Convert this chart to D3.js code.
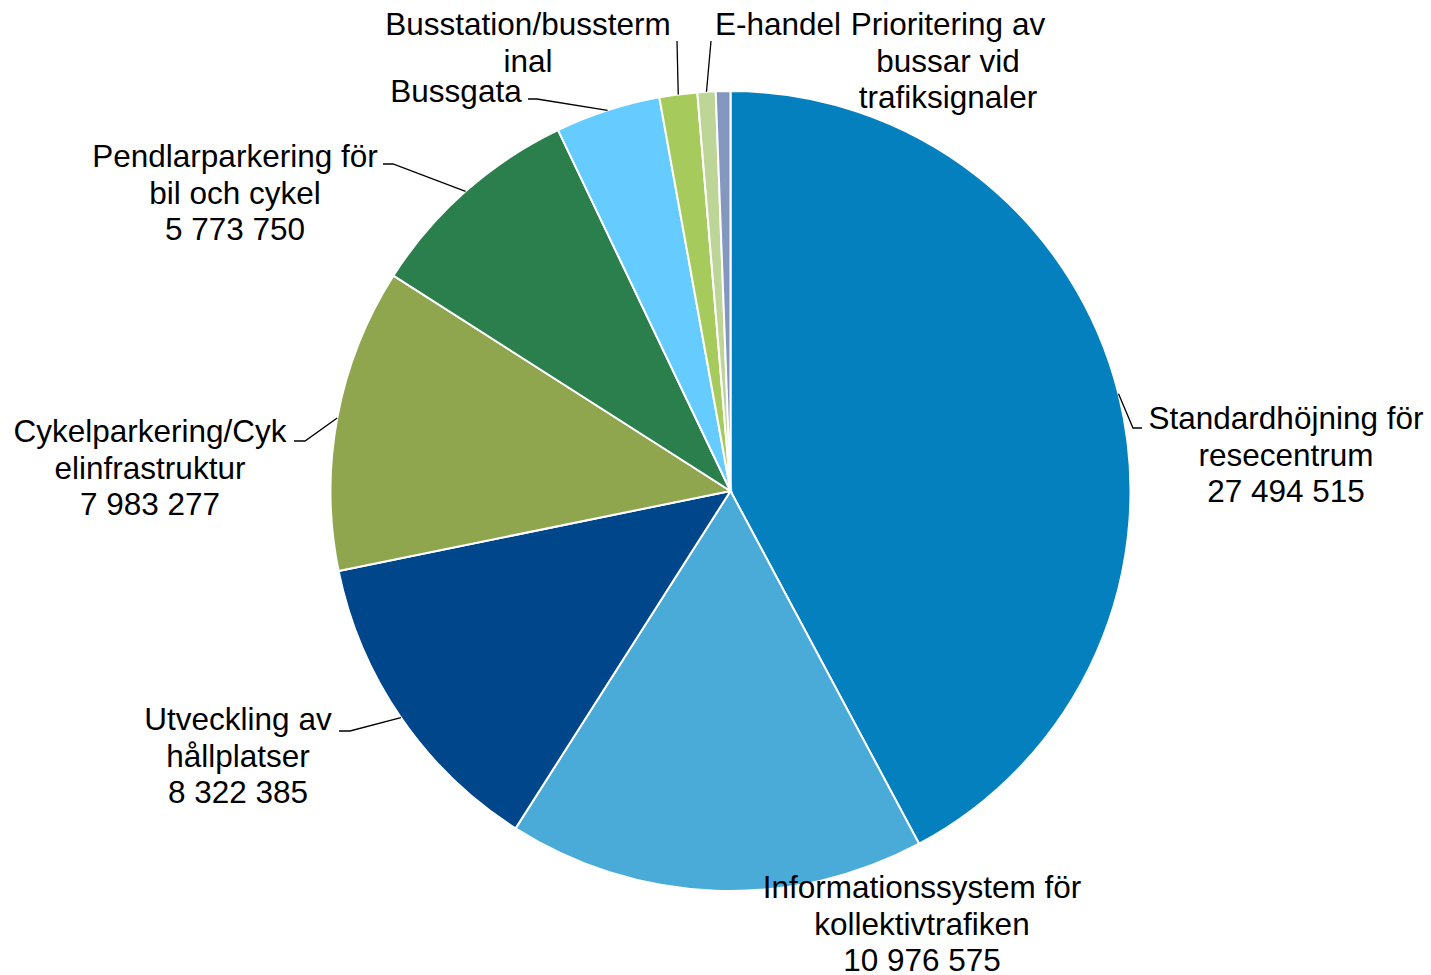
<!DOCTYPE html>
<html>
<head>
<meta charset="utf-8">
<script src="https://cdn.jsdelivr.net/npm/d3@7"></script>
<style>
  body { margin: 0; background: #fff; }
  text { font-family: "Liberation Sans", Arial, sans-serif; font-size: 31.5px; fill: #000; }
</style>
</head>
<body>
<svg id="canvas" width="1431" height="975"></svg>
<script>
// data
const categories = [
  "Standardhöjning för resecentrum",
  "Informationssystem för kollektivtrafiken",
  "Utveckling av hållplatser",
  "Cykelparkering/Cykelinfrastruktur",
  "Pendlarparkering för bil och cykel",
  "Bussgata",
  "Busstation/bussterminal",
  "E-handel",
  "Prioritering av bussar vid trafiksignaler"
];
const values = [27494515, 10976575, 8322385, 7983277, 5773750, 2768000, 994000, 478000, 384000];
const showValue = [true, true, true, true, true, false, false, false, false];
// label lines as wrapped in the chart
const labelLines = [
  ["Standardhöjning för", "resecentrum"],
  ["Informationssystem för", "kollektivtrafiken"],
  ["Utveckling av", "hållplatser"],
  ["Cykelparkering/Cyk", "elinfrastruktur"],
  ["Pendlarparkering för", "bil och cykel"],
  ["Bussgata"],
  ["Busstation/bussterm", "inal"],
  ["E-handel"],
  ["Prioritering av", "bussar vid", "trafiksignaler"]
];
const colors = ["#0380bd", "#4aabd9", "#00468b", "#8fa54e", "#2a7f4d", "#66ccff", "#a6cb5c", "#bdd597", "#8497bf"];

// layout of labels (center x, first baseline) and leader knee/end
const labelPos = [
  {x: 1286, y: 429, knee: [1133, 428], end: [1142, 428]},
  {x: 922, y: 898, knee: null},
  {x: 238, y: 730, knee: [350, 731], end: [339, 731]},
  {x: 150, y: 442, knee: [305, 441], end: [294, 441]},
  {x: 235, y: 167, knee: [393, 164], end: [383, 164]},
  {x: 456, y: 102, knee: [537, 99], end: [528, 99]},
  {x: 528, y: 35, knee: [677, 41], end: [677, 41]},
  {x: 778, y: 35, knee: [711, 41], end: [711, 41]},
  {x: 948, y: 35, knee: null}
];

let svg = d3.select("#canvas");
const cx = 730.5, cy = 491, r = 400, lineH = 36.5;

const pie = d3.pie().sort(null).value(d => d);
const arcs = pie(values);
const arc = d3.arc().innerRadius(0).outerRadius(r);

const g = svg.append("g").attr("transform", `translate(${cx},${cy})`);
g.selectAll("path.slice")
  .data(arcs)
  .enter()
  .append("path")
  .attr("class", "slice")
  .attr("d", arc)
  .attr("fill", (d, i) => colors[i])
  .attr("stroke", "#fff")
  .attr("stroke-width", 2);

// leader lines
arcs.forEach((d, i) => {
  const p = labelPos[i];
  if (!p.knee) return;
  const mid = (d.startAngle + d.endAngle) / 2;
  const sx = cx + r * Math.sin(mid), sy = cy - r * Math.cos(mid);
  svg.append("polyline")
    .attr("points", [[sx, sy], p.knee, p.end].map(q => q.join(",")).join(" "))
    .attr("fill", "none")
    .attr("stroke", "#000")
    .attr("stroke-width", 1.3);
});

// labels
const fmt = v => d3.format(",")(v).replace(/,/g, " ");
categories.forEach((c, i) => {
  const p = labelPos[i];
  const lines = labelLines[i].slice();
  if (showValue[i]) lines.push(fmt(values[i]));
  const t = svg.append("text").attr("text-anchor", "middle");
  lines.forEach((l, k) => {
    t.append("tspan").attr("x", p.x).attr("y", p.y + k * lineH).text(l);
  });
});
</script>
</body>
</html>
